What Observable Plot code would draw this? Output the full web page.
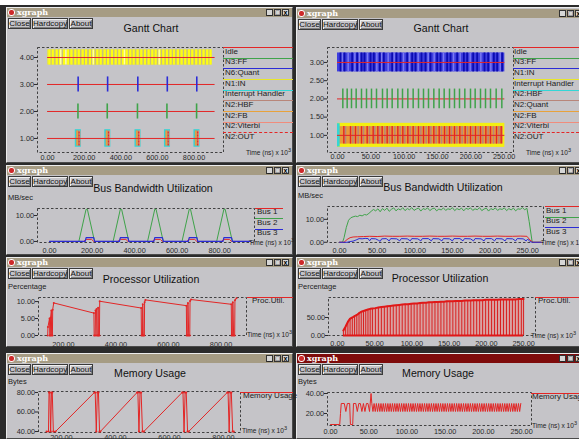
<!DOCTYPE html>
<html><head><meta charset="utf-8">
<script src="https://cdn.jsdelivr.net/npm/d3@7"></script>
<script src="https://cdn.jsdelivr.net/npm/@observablehq/plot@0.6"></script>
<style>
html,body{margin:0;padding:0}
body{width:579px;height:439px;position:relative;overflow:hidden;background:#fff;font-family:"Liberation Sans",Arial,sans-serif}
.abs{position:absolute;white-space:nowrap}
.win{background:#c5c4c8;border:1px solid;border-color:#ececec #4a4a4a #4a4a4a #ececec;box-sizing:border-box}
.tbar{background:#a69c84}
.tbar.active{background:#7e0b0b}
.tname{color:#fff;font:bold 8px "DejaVu Serif",serif;line-height:9px}
.btn{border:1px solid #3a3a3a;box-shadow:inset 1px 1px 0 #efefef,inset -1px -1px 0 #808080;background:#c5c4c8;font-size:8px;line-height:9px;text-align:center;box-sizing:border-box;color:#111}
.wbtn{background:#d6d6d6;border:1px solid #333;box-sizing:border-box;font-size:7px;line-height:6px;text-align:center;color:#000;font-weight:bold}
.ttl{font-size:10.6px;color:#111;transform:translate(-50%,-50%)}
.small{font-size:7.5px;color:#222;transform:translateY(-50%)}
.time{font-size:6.6px;color:#222;transform:translateY(-50%)}
.leg{font-size:8px;color:#222;line-height:9px}
</style></head><body>
<script>
// ---------------- DATA ----------------
const xTicksLong = [0, 200, 400, 600, 800];
const xTicksLate = [200, 400, 600, 800];
const xTicksShort = [0, 50, 100, 150, 200, 250];

// Gantt chart (left)
const ganttLeftLabels = ["Idle","N3:FF","N6:Quant","N1:IN","Interrupt Handler","N2:HBF","N2:FB","N2:Viterbi","N2:OUT"];
const ganttLeftColors = ["#e32626","#3fa34a","#2b2bd6","#e9e62a","#33d6d6","#b8867a","#e8a23c","#f08c7c","#e32626"];
const ganttLeftRows = [1, 2, 3, 4];
const ganttLeftIdleSpan = [0, 915];
const ganttLeftInSpan = [0, 900];
const ganttLeftInBright = [10,28,50,68,90,112,130,152,170,192,210,232,250,272,290,312,330,352,372,392,412,432,452,470,492,512,532,552,572,590,612,632,652,672,690,712,732,752,772,790,812,832,852,872,890];
const ganttLeftInPale = [20,40,60,80,100,121,141,161,181,201,221,241,261,281,301,321,341,362,382,402,422,442,462,481,502,522,542,562,582,601,622,642,662,682,701,722,742,762,782,801,822,842,862,882];
const ganttLeftInWhite = [72, 100, 250, 420, 610];
const ganttLeftQuant = [167, 328, 493, 654, 815];
const ganttLeftFF = [166, 326, 491, 652, 814];
const ganttLeftIntStart = [155, 316, 481, 642, 803];
const ganttLeftIntEnd = [181, 342, 507, 668, 829];
const ganttLeftOut = [172, 333, 498, 659, 820];
const ganttLeftFB = [162, 323, 488, 649, 810];
const ganttLeftVit = [176, 337, 502, 663, 824];

// Gantt chart (right)
const ganttRightLabels = ["Idle","N3:FF","N1:IN","Interrupt Handler","N2:HBF","N2:Quant","N2:FB","N2:Viterbi","N2:OUT"];
const ganttRightColors = ["#e32626","#3fa34a","#2b2bd6","#e9e62a","#33d6d6","#b8867a","#e8a23c","#f08c7c","#e32626"];
const ganttRightRows = [1, 2, 3];
const ganttRightSpan = [0, 251];
const ganttRightInDark = [4.5,10.5,22,29.5,36,40.5,49.5,54.5,63.5,69.5,82,88.5,94.5,104.5,112,117,126,132,139.5,149.5,154.5,164.5,169.5,179.5,189.5,194.5,203.5,209.5,220.5,226,234.5,239.5,247];
const ganttRightInLight = [7,16,26,33,45,59,66,76,85,99,108,121,136,145,159,174,184,199,215,230,244];
const ganttRightFF = [8,14.5,21,28,36,43.5,51,58.5,67.5,74.5,82,90.5,97.5,105.5,113.5,121.5,129,136.5,144.5,152.5,160,168,175.5,183,191,199.5,206.5,214.5,222,229.5,238,246.5];
const ganttRightOut = [9.5,19.5,27,36,44.5,53.5,60.5,67,74.5,82,90.5,98,105.5,113.5,121.5,129,137,144.5,152.5,160.5,168,175.5,183.5,191.5,199.5,207,214.5,222.5,229.5,238.5,245.5];
const ganttRightQuant = [12,23,31,39,48,56,63,71,78,86,94,101,109,117,125,133,140,148,156,164,171,179,187,195,203,211,218,226,234,242];
const ganttRightHBF = [0, 4];

// Bus bandwidth
const busLabels = ["Bus 1", "Bus 2", "Bus 3"];
const busColors = ["#e32626", "#3fa34a", "#2b2bd6"];
const busLeft1 = [[0,0],[160,0],[172,0.8],[198,0.8],[208,0],[321,0],[333,0.8],[359,0.8],[369,0],[483,0],[495,0.8],[521,0.8],[531,0],[645,0],[657,0.8],[683,0.8],[693,0],[808,0],[820,0.8],[846,0.8],[856,0],[945,0]];
const busLeft2 = [[0,0],[138,0],[172,12.4],[178,12.4],[212,0],[299,0],[333,12.4],[339,12.4],[373,0],[461,0],[495,12.4],[501,12.4],[535,0],[623,0],[657,12.4],[663,12.4],[697,0],[786,0],[820,12.4],[826,12.4],[860,0],[945,0]];
const busLeft3 = [[0,0],[168,0],[172,1.5],[208,1.5],[212,0],[329,0],[333,1.5],[369,1.5],[373,0],[491,0],[495,1.5],[531,1.5],[535,0],[653,0],[657,1.5],[693,1.5],[697,0],[816,0],[820,1.5],[856,1.5],[860,0],[945,0]];
const busRight1 = [[0,0],[6,0],[10,1.2],[14,2.0],[18,2.3],[24,2.4],[32,2.5],[40,2.6],[50,2.5],[60,2.7],[70,2.6],[80,2.6],[90,2.7],[100,2.6],[110,2.6],[120,2.7],[130,2.6],[140,2.6],[150,2.7],[160,2.6],[170,2.6],[180,2.7],[190,2.6],[200,2.6],[210,2.7],[220,2.6],[230,2.6],[240,2.7],[249,2.6],[253,1],[257,0],[268,0]];
const busRight2 = [[0,0],[4,0],[6,2],[9,6.5],[12,9.6],[15,10.7],[18,11.1],[21,11.4],[24,11.2],[27,11.8],[30,11.5],[33,12.1],[36,11.9],[39,12.6],[42,13.5],[45,14.3],[48,13.7],[51,14.6],[54,13.3],[57,14.7],[60,13.9],[63,14.9],[66,13.5],[69,14.4],[72,15.0],[75,13.7],[78,14.6],[81,14.1],[84,15.1],[87,13.8],[90,14.7],[93,14.2],[96,15.1],[99,13.9],[102,14.5],[105,14.9],[108,13.6],[111,14.7],[114,14.3],[117,15.0],[120,13.8],[123,14.6],[126,14.9],[129,13.7],[132,14.5],[135,14.1],[138,15.0],[141,13.9],[144,14.6],[147,14.3],[150,15.1],[153,13.8],[156,14.7],[159,14.2],[162,14.9],[165,13.7],[168,14.8],[171,14.4],[174,15.0],[177,13.9],[180,14.6],[183,14.2],[186,15.1],[189,13.8],[192,14.5],[195,14.9],[198,13.6],[201,14.7],[204,14.2],[207,15.0],[210,13.9],[213,14.6],[216,14.3],[219,15.0],[222,13.8],[225,14.7],[228,14.1],[231,14.9],[234,13.7],[237,14.6],[240,14.4],[243,15.1],[246,14.2],[249,14.8],[252,9],[256,0],[268,0]];
const busRight3 = [[0,0],[10,0],[14,0.3],[18,0.5],[22,1.0],[26,1.6],[30,1.5],[34,1.7],[38,1.6],[40,0.6],[42,1.6],[48,1.5],[52,0.8],[54,0.4],[56,1.5],[62,1.6],[66,0.6],[68,1.6],[76,1.5],[80,0.6],[82,1.6],[90,1.5],[94,0.6],[96,1.6],[104,1.5],[108,0.6],[110,1.6],[118,1.6],[122,0.6],[124,1.6],[132,1.5],[136,0.6],[138,1.6],[146,1.5],[150,0.6],[152,1.6],[160,1.6],[164,0.6],[166,1.6],[174,1.5],[178,0.6],[180,1.6],[188,1.5],[192,0.6],[194,1.6],[202,1.6],[206,0.6],[208,1.6],[216,1.5],[220,0.6],[222,1.6],[230,1.5],[234,0.6],[236,1.6],[244,1.5],[248,0.6],[250,1.4],[253,0.3],[256,0],[268,0]];

// Processor utilization
const procLabel = "Proc.Util.";
const procLeft = [[140,0],[141,2.5],[147,5],[148,0],[150,0],[151,5.2],[154,7.4],[155,0],[158,0],[159,7.6],[163,9.6],[316,6.6],[317,0],[321,0],[322,7.4],[326,7.8],[327,0],[331,0],[332,8.2],[333,0],[337,0],[338,10.1],[496,8.1],[497,0],[501,0],[502,9.2],[504,0],[508,0],[509,9.8],[512,10.5],[668,8.8],[669,0],[673,0],[674,9.6],[677,0],[681,0],[682,10.2],[686,10.6],[839,9.2],[840,0],[844,0],[845,9.8],[848,0],[852,0],[853,10.4],[859,11]];
const procRightSpan = [8, 250];
const procRight = [[8,14],[11,25],[14,38],[17,47],[20,50],[23,54],[26,57],[29,62],[32,66],[35,68],[38,70],[41,72],[44,74],[47,75],[51,76],[55,78],[59,79],[63,80],[67,81],[71,82],[75,83],[79,84],[83,85],[87,86],[91,87],[95,87],[99,88],[103,89],[107,89],[111,90],[115,91],[119,91],[123,92],[127,92],[131,93],[135,93],[139,94],[143,94],[147,95],[151,95],[155,95],[159,96],[163,96],[167,96],[171,97],[175,97],[179,97],[183,98],[187,98],[191,98],[195,98],[199,99],[203,99],[207,99],[211,99],[215,99],[219,100],[223,100],[227,100],[231,100],[235,100],[239,100],[243,101],[247,101],[250,101]];

// Memory usage
const memLabel = "Memory Usage";
const memLeft = [[145,40],[152,40],[154,80],[157,80],[160,40],[163,80],[166,80],[170,40],[178,40],[322,80],[325,80],[329,40],[333,80],[337,80],[341,40],[344,40],[480,80],[483,80],[487,40],[491,80],[495,80],[500,40],[505,40],[647,80],[650,80],[654,40],[658,80],[662,80],[667,40],[671,40],[814,80],[817,80],[821,40],[825,80],[829,80],[834,40],[838,40]];
const memRight = [[0,9],[12,9],[13,20],[14,30],[18,30],[20,22],[22,30],[25,30],[26,9],[29,9],[30,30],[33,30],[35,22],[37,30],[39,30],[41,22],[43,30],[45,22],[47,30],[49,30],[51,22],[53,40],[54,30],[55.5,22],
[57,30],[58.5,22],[60,30],[61.5,22],[63,30],[64.5,22],[66,30],[67.5,22],[69,30],[70.5,22],[72,30],[73.5,22],[75,30],[76.5,22],[78,30],[79.5,22],[81,30],[82.5,22],[84,30],[85.5,22],[87,30],[88.5,22],[90,30],[91.5,22],[93,30],[94.5,22],[96,30],[97.5,22],[99,30],[100.5,22],[102,30],[103.5,22],[105,30],[106.5,22],[108,30],[109.5,22],[111,30],[112.5,22],[114,30],[115.5,22],[117,30],[118.5,22],[120,30],[121.5,22],[123,30],[124.5,22],[126,30],[127.5,22],[129,30],[130.5,22],[132,30],[133.5,22],[135,30],[136.5,22],[138,30],[139.5,22],[141,30],[142.5,22],[144,30],[145.5,22],[147,30],[148.5,22],[150,30],[151.5,22],[153,30],[154.5,22],[156,30],[157.5,22],[159,30],[160.5,22],[162,30],[163.5,22],[165,30],[166.5,22],[168,30],[169.5,22],[171,30],[172.5,22],[174,30],[175.5,22],[177,30],[178.5,22],[180,30],[181.5,22],[183,30],[184.5,22],[186,30],[187.5,22],[189,30],[190.5,22],[192,30],[193.5,22],[195,30],[196.5,22],[198,30],[199.5,22],[201,30],[202.5,22],[204,30],[205.5,22],[207,30],[208.5,22],[210,30],[211.5,22],[213,30],[214.5,22],[216,30],[217.5,22],[219,30],[220.5,22],[222,30],[223.5,22],[225,30],[226.5,22],[228,30],[229.5,22],[231,30],[232.5,22],[234,30],[235.5,22],[237,30],[238.5,22],[240,30],[241.5,22],[243,30],[244.5,22],[246,30],[247.5,22],[249,30]];

// ---------------- LAYOUT ----------------
const f2 = d3.format(".2f");
const RED = "#e32626", GREEN = "#3fa34a", BLUE = "#2b2bd6";
function el(cls, x, y, w, h, html, extra) {
  const d = document.createElement("div");
  d.className = "abs " + cls;
  d.style.left = x + "px"; d.style.top = y + "px";
  if (w != null) d.style.width = w + "px";
  if (h != null) d.style.height = h + "px";
  if (html != null) d.innerHTML = html;
  if (extra) Object.assign(d.style, extra);
  document.body.appendChild(d);
  return d;
}
el("", 0, 5, 579, 434, null, {background: "#2b2b2b"});

const wins = [
  {x:6, y:7, w:287, h:156, tb:8, title:"Gantt Chart", tx:151, ty:28},
  {x:296, y:7, w:290, h:156, tb:9, title:"Gantt Chart", tx:441, ty:28},
  {x:6, y:165, w:287, h:90, tb:166, title:"Bus Bandwidth Utilization", tx:153, ty:188, unit:"MB/sec", uy:197},
  {x:296, y:165, w:290, h:90, tb:166, title:"Bus Bandwidth Utilization", tx:443, ty:187, unit:"MB/sec", uy:195},
  {x:6, y:257, w:287, h:90, tb:258, title:"Processor Utilization", tx:151, ty:279, unit:"Percentage", uy:286},
  {x:296, y:257, w:290, h:90, tb:258, title:"Processor Utilization", tx:440, ty:278, unit:"Percentage", uy:286},
  {x:6, y:353, w:287, h:86, tb:354, title:"Memory Usage", tx:150, ty:373, unit:"Bytes", uy:381},
  {x:296, y:353, w:290, h:86, tb:354, title:"Memory Usage", tx:438, ty:373, unit:"Bytes", uy:381, active:true}
];
for (const w of wins) {
  el("win", w.x, w.y, w.w, w.h);
  el("tbar" + (w.active ? " active" : ""), w.x + 1, w.tb, w.w - 2, 9);
  el("", w.x + 2, w.tb + 1, 7, 7, null, {background: "#cc2a2a", borderRadius: "3px", border: "1px solid #fff", boxSizing: "border-box"});
  el("tname", w.x + 11, w.tb, null, 9, "xgraph");
  const r = w.x + w.w - 3;
  ["x", "□", "_"].forEach((s, i) => el("wbtn", r - 8 * (i + 1), w.tb + 1, 7, 7, s));
  el("btn", w.x + 2, w.tb + 10, 23, 11, "Close");
  el("btn", w.x + 26, w.tb + 10, 36, 11, "Hardcopy");
  el("btn", w.x + 63, w.tb + 10, 24, 11, "About");
  el("ttl", w.tx, w.ty, null, null, w.title);
  if (w.unit) el("small", w.x + 2, w.uy, null, null, w.unit);
}

function panel(c) {
  const ml = 40, mr = 2, mt = 3, mb = 16;
  const [fx0, fx1, fy0, fy1] = c.frame;
  const svg = Plot.plot({
    width: fx1 - fx0 + ml + mr, height: fy1 - fy0 + mt + mb,
    marginLeft: ml, marginRight: mr, marginTop: mt, marginBottom: mb,
    x: {domain: c.xd}, y: {domain: c.yd},
    style: {background: "none", overflow: "visible", fontFamily: '"Liberation Sans", Arial, sans-serif', fontSize: "7.3px", color: "#2a2a2a"},
    marks: [
      Plot.frame({stroke: "#333", strokeDasharray: "2.5,2", strokeWidth: 0.9}),
      ...c.marks,
      Plot.axisX(c.xt, {tickFormat: f2, tickSize: 0, tickPadding: c.xoff - 2.7, label: null}),
      Plot.axisY(c.yt, {tickFormat: f2, tickSize: 3, tickPadding: 0.5, label: null})
    ]
  });
  svg.style.position = "absolute";
  svg.style.left = (fx0 - ml) + "px";
  svg.style.top = (fy0 - mt) + "px";
  document.body.appendChild(svg);
}
function legend(labels, colors, lx, lines, x0, x1, dashedLast) {
  labels.forEach((t, i) => {
    const dash = dashedLast && i === labels.length - 1;
    el("", x0, lines[i], x1 - x0, 0, null, {borderTop: (dash ? "1px dashed " : "1px solid ") + colors[i]});
    el("leg", lx, lines[i] - 0.5, null, null, t);
  });
}
function timeLabel(x, y) {
  el("time", x, y, null, null, 'Time (ns) x 10<span style="font-size:5.5px;position:relative;top:-3px">3</span>');
}
const XY = {x: d => d[0], y: d => d[1]};

// 1. Gantt left
panel({frame: [37, 223, 47, 152], xd: [-55, 961], yd: [0.48, 4.37], xt: xTicksLong, yt: ganttLeftRows, xoff: 5,
  marks: [
    Plot.rect([ganttLeftInSpan], {x1: d => d[0], x2: d => d[1], y1: 3.72, y2: 4.28, fill: "#e4e150"}),
    Plot.ruleX(ganttLeftInPale, {y1: 3.72, y2: 4.28, stroke: "#c9c07a", strokeWidth: 1.5}),
    Plot.ruleX(ganttLeftInBright, {y1: 3.72, y2: 4.28, stroke: "#ffff10", strokeWidth: 2}),
    Plot.ruleX(ganttLeftInWhite, {y1: 3.72, y2: 4.28, stroke: "#ffffa8", strokeWidth: 1.5}),
    Plot.rect(ganttLeftIntStart, {x1: d => d, x2: (d, i) => ganttLeftIntEnd[i], y1: 0.7, y2: 1.3, fill: "#a99184", stroke: "#33d6d6", strokeWidth: 1.3}),
    Plot.ruleX(ganttLeftFB, {y1: 0.72, y2: 1.28, stroke: "#e8a23c", strokeWidth: 1.5}),
    Plot.ruleX(ganttLeftVit, {y1: 0.72, y2: 1.28, stroke: "#f08c7c", strokeWidth: 1.2}),
    Plot.ruleX(ganttLeftOut, {y1: 0.72, y2: 1.28, stroke: RED, strokeWidth: 1.2, strokeDasharray: "2,1"}),
    Plot.ruleY(ganttLeftRows, {x1: ganttLeftIdleSpan[0], x2: ganttLeftIdleSpan[1], stroke: RED, strokeWidth: 1}),
    Plot.ruleX(ganttLeftQuant, {y1: 2.72, y2: 3.28, stroke: BLUE, strokeWidth: 1.6}),
    Plot.ruleX(ganttLeftFF, {y1: 1.72, y2: 2.28, stroke: GREEN, strokeWidth: 1.6})
  ]});
legend(ganttLeftLabels, ganttLeftColors, 225, [47,57.5,68,79,89.5,100,111,121.5,132], 223, 293, true);
timeLabel(246, 152);

// 2. Gantt right
panel({frame: [327, 513, 47, 152], xd: [-15, 264], yd: [0.53, 3.41], xt: xTicksShort, yt: [1, 1.5, 2, 2.5, 3], xoff: 4,
  marks: [
    Plot.rect([ganttRightSpan], {x1: d => d[0], x2: d => d[1], y1: 2.74, y2: 3.26, fill: "#3e3ede"}),
    Plot.ruleX(ganttRightInLight, {y1: 2.74, y2: 3.26, stroke: "#7a7af2", strokeWidth: 1.5}),
    Plot.ruleX(ganttRightInDark, {y1: 2.74, y2: 3.26, stroke: "#0c0cb0", strokeWidth: 1.8}),
    Plot.rect([ganttRightSpan], {x1: d => d[0], x2: d => d[1], y1: 0.67, y2: 1.33, fill: "#f4ef10"}),
    Plot.rect([ganttRightSpan], {x1: d => d[0] + 2, x2: d => d[1] - 2, y1: 0.76, y2: 1.24, fill: "#e89a3a"}),
    Plot.ruleX(ganttRightQuant, {y1: 0.76, y2: 1.24, stroke: "#b8867a", strokeWidth: 1.5}),
    Plot.ruleX(ganttRightOut, {y1: 0.76, y2: 1.24, stroke: RED, strokeWidth: 1.4}),
    Plot.rect([ganttRightHBF], {x1: d => d[0], x2: d => d[1], y1: 0.68, y2: 1.32, fill: "#33d6d6"}),
    Plot.ruleY(ganttRightRows, {x1: ganttRightSpan[0], x2: ganttRightSpan[1], stroke: RED, strokeWidth: 1}),
    Plot.ruleX(ganttRightFF, {y1: 1.73, y2: 2.27, stroke: GREEN, strokeWidth: 1.5})
  ]});
legend(ganttRightLabels, ganttRightColors, 514, [47,57.5,68,79,89.5,100,111,121.5,132], 513, 579, true);
timeLabel(526, 152);

// 3. Bus left
panel({frame: [37, 254, 208, 242], xd: [-56.5, 964], yd: [-0.4, 12.7], xt: xTicksLong, yt: [0, 10], xoff: 8,
  marks: [
    Plot.line(busLeft2, {...XY, stroke: GREEN, strokeWidth: 1}),
    Plot.line(busLeft1, {...XY, stroke: RED, strokeWidth: 1}),
    Plot.line(busLeft3, {...XY, stroke: BLUE, strokeWidth: 1.2})
  ]});
legend(busLabels, busColors, 257, [207.5, 218, 228.5], 255, 283, false);
timeLabel(249, 242);

// 4. Bus right
panel({frame: [327, 543, 206, 242], xd: [-16, 271], yd: [-0.1, 15.6], xt: xTicksShort, yt: [0, 10], xoff: 8,
  marks: [
    Plot.line(busRight2, {...XY, stroke: GREEN, strokeWidth: 1}),
    Plot.line(busRight1, {...XY, stroke: RED, strokeWidth: 1}),
    Plot.line(busRight3, {...XY, stroke: BLUE, strokeWidth: 1})
  ]});
legend(busLabels, busColors, 546, [206, 216.5, 227], 545, 579, false);
timeLabel(541, 242);

// 5. Processor left
panel({frame: [38, 246, 297, 335], xd: [105, 897], yd: [0, 11.2], xt: xTicksLate, yt: [0, 5, 10], xoff: 9,
  marks: [
    Plot.line(procLeft, {...XY, stroke: RED, strokeWidth: 1}),
    Plot.dot(procLeft, {...XY, r: 1, fill: RED})
  ]});
legend([procLabel], [RED], 252, [296.5], 247, 293, false);
timeLabel(247, 334);

// 6. Processor right
panel({frame: [328, 535, 297, 335], xd: [-12, 266], yd: [0, 105.5], xt: xTicksShort, yt: [0, 50], xoff: 8,
  marks: [
    Plot.areaY(procRight, {...XY, fill: "#d9a2a2"}),
    Plot.ruleX(procRight, {x: d => d[0], y1: 0, y2: d => d[1], stroke: "#d82020", strokeWidth: 1}),
    Plot.line(procRight, {...XY, stroke: "#e01818", strokeWidth: 2}),
    Plot.ruleY([0], {x1: procRightSpan[0], x2: procRightSpan[1], stroke: "#e01818", strokeWidth: 2})
  ]});
legend([procLabel], [RED], 538, [296.5], 535, 579, false);
timeLabel(531, 335);

// 7. Memory left
panel({frame: [38, 240, 391, 432], xd: [115, 863], yd: [39, 81], xt: xTicksLate, yt: [40, 60, 80], xoff: 4.8,
  marks: [
    Plot.line(memLeft, {...XY, stroke: RED, strokeWidth: 1}),
    Plot.dot(memLeft, {...XY, r: 1.1, fill: RED})
  ]});
legend([memLabel], [RED], 243, [391.5], 240, 293, false);
timeLabel(242, 430);

// 8. Memory right
panel({frame: [327, 531, 392, 425], xd: [-4, 263], yd: [8, 41], xt: xTicksShort, yt: [20, 40], xoff: 6,
  marks: [
    Plot.line(memRight, {...XY, stroke: RED, strokeWidth: 1})
  ]});
legend([memLabel], [RED], 532, [392.5], 531, 579, false);
timeLabel(532, 425);
</script>
</body></html>
